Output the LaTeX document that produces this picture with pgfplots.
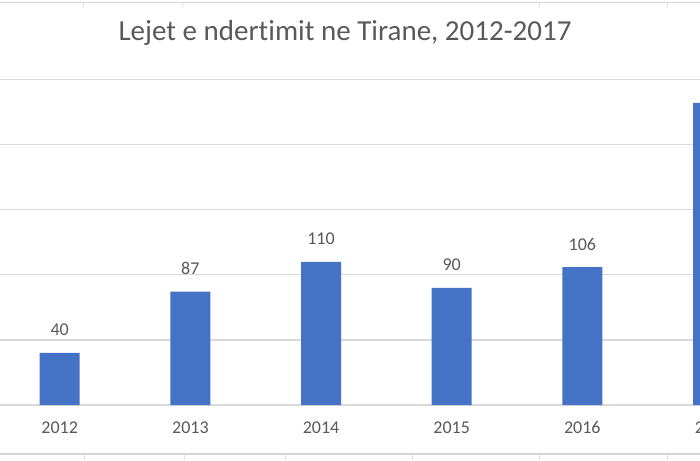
\documentclass[border=0pt]{standalone}
\usepackage{pgfplots}
\pgfplotsset{compat=1.18}
\usepackage{fontspec}
\setmainfont[Ligatures=NoCommon]{Carlito}
\definecolor{barblue}{HTML}{4472C4}
\definecolor{txtgray}{HTML}{595959}
\definecolor{gridgray}{HTML}{D9D9D9}
\definecolor{cellgray}{HTML}{D4D4D4}

\begin{document}
\begin{tikzpicture}
\useasboundingbox (0,0) rectangle (350pt,230pt);
\clip (0,0) rectangle (350pt,230pt);
\fill[white] (0,0) rectangle (350pt,230pt);
% faint cell borders above and below the chart
\draw[cellgray, line width=0.6pt] (0,228.85pt) -- (350pt,228.85pt);
\draw[cellgray, line width=0.6pt] (0,3pt) -- (350pt,3pt);
\foreach \x in {42pt,92pt,142.5pt,206pt,269.5pt,333.5pt} {
  \draw[cellgray!70, line width=0.5pt] (\x,3pt) -- (\x,0pt);
}
\foreach \x in {41.5pt,91pt,269.5pt,333.5pt} {
  \draw[cellgray!70, line width=0.5pt] (\x,228.85pt) -- (\x,226.5pt);
}
\begin{axis}[
  at={(0pt,27.5pt)}, anchor=south west,
  scale only axis, width=395.7pt, height=221.3pt,
  xmin=-0.457, xmax=5.6, ymin=0, ymax=340,
  /pgf/number format/assume math mode=true,
  axis x line=bottom, axis y line=left,
  axis line style={-},
  x axis line style={draw=gridgray, line width=0.6pt},
  y axis line style={draw=none},
  ytick={50,100,150,200,250},
  yticklabels={},
  ymajorgrids,
  grid style={gridgray, line width=0.6pt},
  major tick length=0pt,
  xtick={0,1,2,3,4,5},
  xticklabels={\mbox{2012},\mbox{2013},\mbox{2014},\mbox{2015},\mbox{2016},\mbox{2017}},
  xticklabel style={font=\fontsize{9}{10}\selectfont, text=txtgray, inner sep=0pt, anchor=base, yshift=-14.1pt},
  ybar, bar width=20pt,
  nodes near coords,
  nodes near coords style={font=\fontsize{9}{10}\selectfont, text=txtgray, anchor=base, inner sep=0pt, yshift=8.5pt},
  clip=false,
]
\addplot[fill=barblue, draw=none] coordinates {
  (0,40) (1,87) (2,110) (3,90) (4,106) (5,232)
};
\end{axis}
\node[anchor=base, font=\fontsize{14.5}{17}\selectfont, text=txtgray] at (172.5pt,209.5pt) {Lejet e ndertimit ne Tirane, 2012-2017};
\end{tikzpicture}
\end{document}
